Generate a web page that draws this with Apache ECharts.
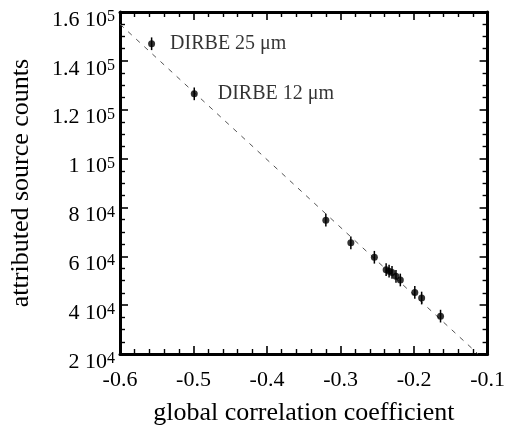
<!DOCTYPE html>
<html><head><meta charset="utf-8">
<script src="https://cdn.jsdelivr.net/npm/echarts@6/dist/echarts.min.js"></script>
<style>html,body{margin:0;padding:0;background:#fff}#c{width:508px;height:439px}</style>
</head><body><div id="c"></div>
<script>
const corrCoeff = [-0.557, -0.499, -0.320, -0.286, -0.254, -0.238, -0.234, -0.230, -0.2246, -0.2187, -0.199, -0.1897, -0.164];
const sourceCounts = [147000, 126500, 74800, 65500, 59600, 54500, 53900, 53400, 51800, 50300, 45200, 42900, 35500];
const countErr = [2600, 2600, 2600, 2600, 2600, 2600, 2600, 2600, 2600, 2600, 2600, 2600, 2600];
const pointLabels = ['DIRBE 25 μm', 'DIRBE 12 μm', '', '', '', '', '', '', '', '', '', '', ''];
const fitLineX = [-0.6, -0.113];
const fitLineY = [155000, 20000];
const yTickLabels = {20000:['2','4'],40000:['4','4'],60000:['6','4'],80000:['8','4'],100000:['1','5'],120000:['1.2','5'],140000:['1.4','5'],160000:['1.6','5']};
const xTickLabels = {'-0.6':'-0.6','-0.5':'-0.5','-0.4':'-0.4','-0.3':'-0.3','-0.2':'-0.2','-0.1':'-0.1'};

const FONT = 'Liberation Serif';
const chart = echarts.init(document.getElementById('c'));
const pts = corrCoeff.map((x, i) => {
  const d = {value: [x, sourceCounts[i]]};
  if (pointLabels[i]) {
    d.label = {show: true, position: 'right', distance: i === 0 ? 15 : 20, formatter: pointLabels[i],
      color: '#000', fontFamily: FONT, fontSize: 20};
  }
  return d;
});
const errData = corrCoeff.map((x, i) => [x, sourceCounts[i] - countErr[i], sourceCounts[i] + countErr[i]]);
const axisLineStyle = {show: true, lineStyle: {color: '#000', width: 3}};
const xCommon = {type: 'value', min: -0.6, max: -0.1, interval: 0.1,
  axisLine: axisLineStyle, axisTick: {show: true, inside: true, length: 8, lineStyle: {color: '#000', width: 1.6}},
  minorTick: {show: true, splitNumber: 5, length: 5, lineStyle: {color: '#000', width: 1.4}},
  splitLine: {show: false}};
const yCommon = {type: 'value', min: 20000, max: 160000, interval: 20000,
  axisLine: axisLineStyle, axisTick: {show: true, inside: true, length: 8, lineStyle: {color: '#000', width: 1.6}},
  minorTick: {show: true, splitNumber: 4, length: 5, lineStyle: {color: '#000', width: 1.4}},
  splitLine: {show: false}};
chart.setOption({
  animation: false,
  grid: {left: 118, right: 18, top: 12, bottom: 85},
  xAxis: [
    Object.assign({}, xCommon, {position: 'bottom',
      name: 'global correlation coefficient', nameLocation: 'middle', nameGap: 46,
      nameTextStyle: {fontFamily: FONT, fontSize: 26, color: '#000'},
      axisLabel: {margin: 15, fontFamily: FONT, fontSize: 22, color: '#000',
        formatter: v => xTickLabels[(Math.round(v * 10) / 10).toFixed(1)] || ''}}),
    Object.assign({}, xCommon, {position: 'top', axisLabel: {show: false}})
  ],
  yAxis: [
    Object.assign({}, yCommon, {position: 'left',
      name: 'attributed source counts', nameLocation: 'middle', nameGap: 86,
      nameTextStyle: {fontFamily: FONT, fontSize: 26, color: '#000'},
      axisLabel: {margin: 5, padding: [16, 0, 0, 0], fontFamily: FONT, fontSize: 22, color: '#000',
        formatter: v => { const t = yTickLabels[Math.round(v)]; return t ? '{b|' + t[0] + ' 10}{s|' + t[1] + '}' : ''; },
        rich: {b: {fontFamily: FONT, fontSize: 22, color: '#000', verticalAlign: 'bottom', lineHeight: 22},
               s: {fontFamily: FONT, fontSize: 16, color: '#000', verticalAlign: 'top', lineHeight: 16}}}}),
    Object.assign({}, yCommon, {position: 'right', axisLabel: {show: false}})
  ],
  series: [
    {type: 'line', data: fitLineX.map((x, i) => [x, fitLineY[i]]), symbol: 'none', silent: true,
      lineStyle: {color: '#555', width: 1, type: [5, 6]}, z: 1},
    {type: 'custom', data: errData, z: 2,
      renderItem: (params, api) => {
        const a = api.coord([api.value(0), api.value(1)]);
        const b = api.coord([api.value(0), api.value(2)]);
        return {type: 'line', shape: {x1: a[0], y1: a[1], x2: b[0], y2: b[1]}, style: {stroke: '#000', lineWidth: 1.5}};
      }},
    {type: 'scatter', data: pts, symbol: 'circle', symbolSize: 7, itemStyle: {color: '#000'}, z: 3}
  ]
});
</script></body></html>
